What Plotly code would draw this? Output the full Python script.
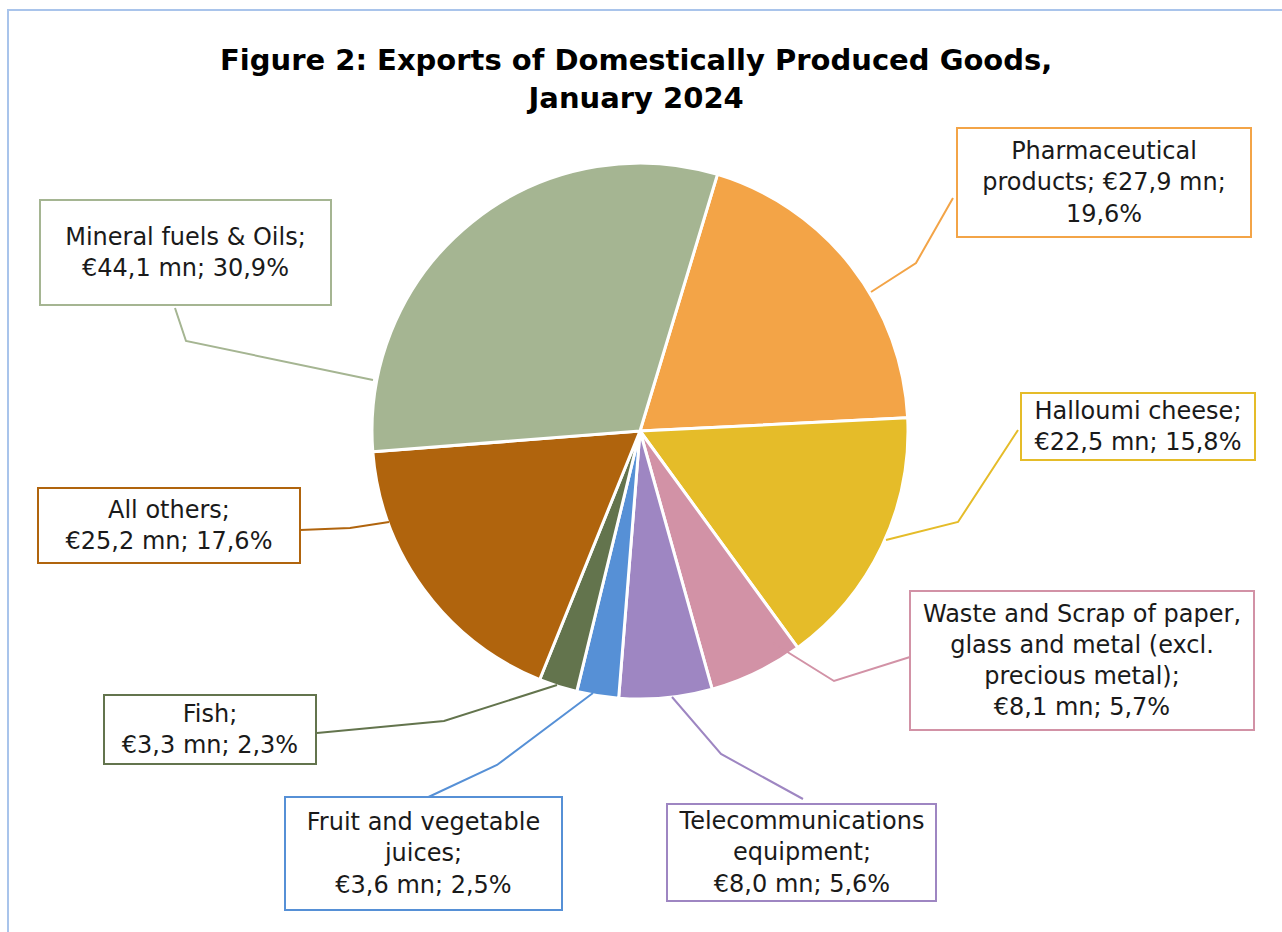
import plotly.graph_objects as go

# ---- data ----
categories = [
    "Pharmaceutical products",
    "Halloumi cheese",
    "Waste and Scrap of paper, glass and metal (excl. precious metal)",
    "Telecommunications equipment",
    "Fruit and vegetable juices",
    "Fish",
    "All others",
    "Mineral fuels & Oils",
]
values_mn = [27.9, 22.5, 8.1, 8.0, 3.6, 3.3, 25.2, 44.1]
shares_pct = [19.6, 15.8, 5.7, 5.6, 2.5, 2.3, 17.6, 30.9]
label_names = [
    "Pharmaceutical<br>products;",
    "Halloumi cheese;",
    "Waste and Scrap of paper,<br>glass and metal (excl.<br>precious metal);<br>",
    "Telecommunications<br>equipment;<br>",
    "Fruit and vegetable<br>juices;<br>",
    "Fish;<br>",
    "All others;<br>",
    "Mineral fuels & Oils;<br>",
]
colors = ["#F3A447", "#E5BC29", "#D292A6", "#9E86C2", "#5690D6", "#63744D", "#B0640D", "#A5B592"]

W, H = 1282, 932

def fmt(v):
    return f"{v:.1f}".replace(".", ",")

def label_text(i):
    name = label_names[i]
    if i == 0:
        return f"{name} €{fmt(values_mn[i])} mn;<br>{fmt(shares_pct[i])}%"
    if i == 1:
        return f"{name}<br>€{fmt(values_mn[i])} mn; {fmt(shares_pct[i])}%"
    return f"{name}€{fmt(values_mn[i])} mn; {fmt(shares_pct[i])}%"

# ---- layout geometry (pixels) ----
cx, cy, R = 640, 431, 268
rotation = 16.8
# label boxes: left, top, right, bottom
boxes = [
    (957, 128, 1251, 237),
    (1021, 393, 1255, 460),
    (910, 591, 1254, 730),
    (667, 804, 936, 901),
    (285, 797, 562, 910),
    (104, 695, 316, 764),
    (38, 488, 300, 563),
    (40, 200, 331, 305),
]
leaders = [
    [(871, 292), (916, 263), (953, 198)],
    [(886, 540), (958, 522), (1018, 430)],
    [(773, 643), (834, 681), (910, 657)],
    [(672, 697), (721, 754), (803, 799)],
    [(593, 693), (497, 765), (422, 800)],
    [(557, 685), (444, 721), (317, 733)],
    [(389, 522), (350, 528), (300, 530)],
    [(373, 380), (186, 341), (175, 308)],
]

def px(x):
    return x / W

def py(y):
    return 1 - y / H

fig = go.Figure()
fig.add_trace(go.Pie(
    labels=categories,
    values=values_mn,
    sort=False,
    direction="clockwise",
    rotation=rotation,
    textinfo="none",
    hoverinfo="label+value+percent",
    marker=dict(colors=colors, line=dict(color="white", width=3)),
    domain=dict(x=[px(cx - R), px(cx + R)], y=[py(cy + R), py(cy - R)]),
    showlegend=False,
))

shapes = [
    dict(type="rect", xref="paper", yref="paper",
         x0=px(8), y0=py(10), x1=px(1300), y1=py(950),
         line=dict(color="#A9C4EB", width=2), fillcolor="rgba(0,0,0,0)", layer="below"),
]
for pts, c in zip(leaders, colors):
    path = "M " + " L ".join(f"{px(x)},{py(y)}" for x, y in pts)
    shapes.append(dict(type="path", xref="paper", yref="paper", path=path,
                       line=dict(color=c, width=2)))

annotations = [
    dict(text="<b>Figure 2: Exports of Domestically Produced Goods,<br>January 2024</b>",
         x=px(636), y=py(41), xref="paper", yref="paper", xanchor="center", yanchor="top",
         showarrow=False, font=dict(family="DejaVu Sans", size=29, color="#000000"), align="center"),
]
for i, (b, c) in enumerate(zip(boxes, colors)):
    l, t, r, bt = b
    annotations.append(dict(
        text=label_text(i), x=px((l + r) / 2), y=py((t + bt) / 2),
        xref="paper", yref="paper", xanchor="center", yanchor="middle",
        showarrow=False, align="center", valign="middle",
        width=r - l - 2, height=bt - t - 2, borderpad=0,
        bordercolor=c, borderwidth=2, bgcolor="white",
        font=dict(family="DejaVu Sans", size=24, color="#1a1a1a"),
    ))

fig.update_layout(
    width=W, height=H,
    margin=dict(l=0, r=0, t=0, b=0),
    paper_bgcolor="white", plot_bgcolor="white",
    shapes=shapes, annotations=annotations,
)
fig.write_html("out.html")
